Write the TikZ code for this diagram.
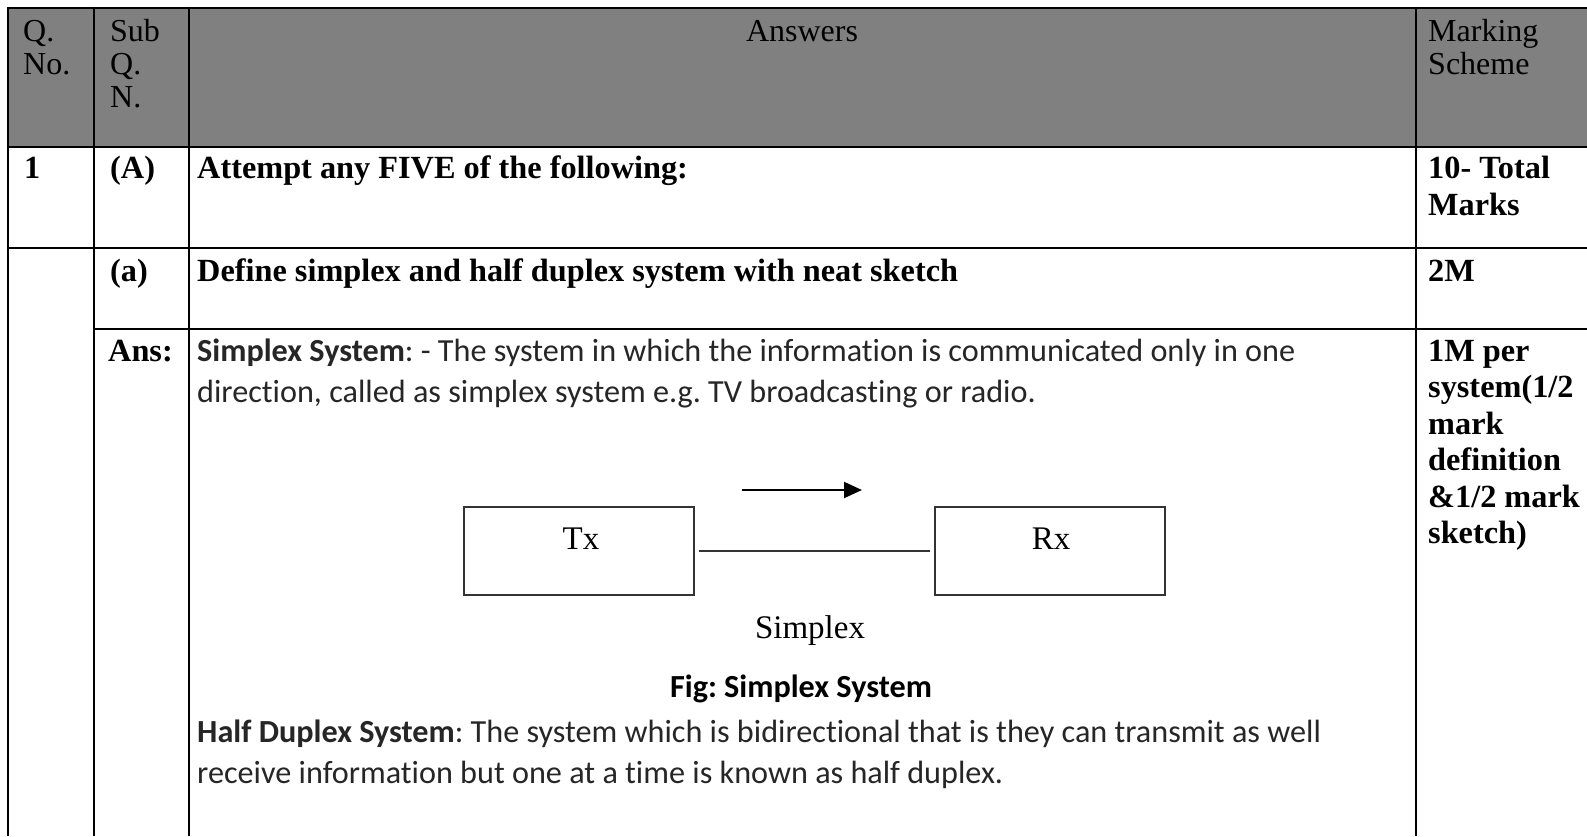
\documentclass[tikz,border=0pt]{standalone}
\usepackage{fontspec}
\setmainfont{Liberation Serif}
\newfontfamily\calfont[Ligatures=NoCommon]{Carlito}
\usetikzlibrary{arrows.meta}
\definecolor{hdrgray}{HTML}{808080}
\definecolor{bodytxt}{HTML}{262626}
\definecolor{boxline}{HTML}{333333}
\frenchspacing
\begin{document}
\frenchspacing
\begin{tikzpicture}[x=1pt,y=-1pt,
 tline/.style={line width=2.6pt, black},
 hdr/.style={anchor=base west, inner sep=0pt, font=\fontsize{32}{37}\selectfont},
 bld/.style={anchor=base west, inner sep=0pt, font=\fontsize{32.3}{37}\selectfont\bfseries},
 body/.style={anchor=base west, inner sep=0pt, text=bodytxt, font=\calfont\fontsize{32.2}{41}\selectfont},
 blk/.style={draw=boxline, line width=2pt, minimum width=230pt, minimum height=88pt, inner sep=0pt},
 figtxt/.style={anchor=base, inner sep=0pt, font=\fontsize{33}{38}\selectfont},
 wire/.style={draw=boxline, line width=2pt}
]
\useasboundingbox (0,0) rectangle (1587,836);
\fill[white] (0,0) rectangle (1587,836);
\fill[hdrgray] (8,8) rectangle (1587,147);
% table rules
\draw[tline] (6.7,8) -- (1587,8);
\draw[tline] (8,147) -- (1587,147);
\draw[tline] (8,248) -- (1587,248);
\draw[tline] (94,329) -- (1587,329);
\draw[tline] (8,6.7) -- (8,836);
\draw[tline] (94,6.7) -- (94,836);
\draw[tline] (189,6.7) -- (189,836);
\draw[tline] (1416,6.7) -- (1416,836);
% header
\node[hdr] (hq1) at (23,41) {Q.};
\node[hdr] (hq2) at (23,74) {No.};
\node[hdr] (hs1) at (110,41) {Sub};
\node[hdr] (hs2) at (110,74) {Q.};
\node[hdr] (hs3) at (110,107) {N.};
\node[hdr, anchor=base] (hans) at (802,41) {Answers};
\node[hdr] (hm1) at (1428,41) {Marking};
\node[hdr] (hm2) at (1428,74) {Scheme};
% row 1
\node[bld] (r1q) at (24,178) {1};
\node[bld] (r1s) at (110,178) {(A)};
\node[bld] (r1a) at (197,178) {Attempt any FIVE of the following:};
\node[bld] (r1m1) at (1428,178) {10- Total};
\node[bld] (r1m2) at (1428,215) {Marks};
% row a
\node[bld] (r2s) at (110,281) {(a)};
\node[bld] (r2a) at (197,281) {Define simplex and half duplex system with neat sketch};
\node[bld] (r2m) at (1428,281) {2M};
% answer row
\node[bld] (r3s) at (108,361) {Ans:};
\node[bld] (m1) at (1428,361) {1M per};
\node[bld] (m2) at (1428,397.5) {system(1/2};
\node[bld] (m3) at (1428,434) {mark};
\node[bld] (m4) at (1428,470.5) {definition};
\node[bld] (m5) at (1428,507) {\&1/2 mark};
\node[bld] (m6) at (1428,543.5) {sketch)};
\node[body] (t1) at (197,361) {\textbf{Simplex System}: - The system in which the information is communicated only in one};
\node[body] (t2) at (197,402) {direction, called as simplex system e.g. TV broadcasting or radio.};
% figure
\node[blk] (tx) at (579,551) {};
\node[blk] (rx) at (1050,551) {};
\node[figtxt] (txl) at (581,549) {Tx};
\node[figtxt] (rxl) at (1051,549) {Rx};
\draw[wire, shorten <=4pt, shorten >=4pt] (tx.east) -- (rx.west);
\coordinate (arrS) at (742,490);
\coordinate (arrE) at (862,490);
\draw[line width=2pt, black, -{Triangle[length=18pt,width=16pt]}] (arrS) -- (arrE);
\node[figtxt] (simpl) at (810,638) {Simplex};
\node[body, anchor=base, text=black] (figcap) at (801,697) {\textbf{Fig: Simplex System}};
\node[body] (t3) at (197,742) {\textbf{Half Duplex System}: The system which is bidirectional that is they can transmit as well};
\node[body] (t4) at (197,783) {receive information but one at a time is known as half duplex.};
\end{tikzpicture}
\end{document}
